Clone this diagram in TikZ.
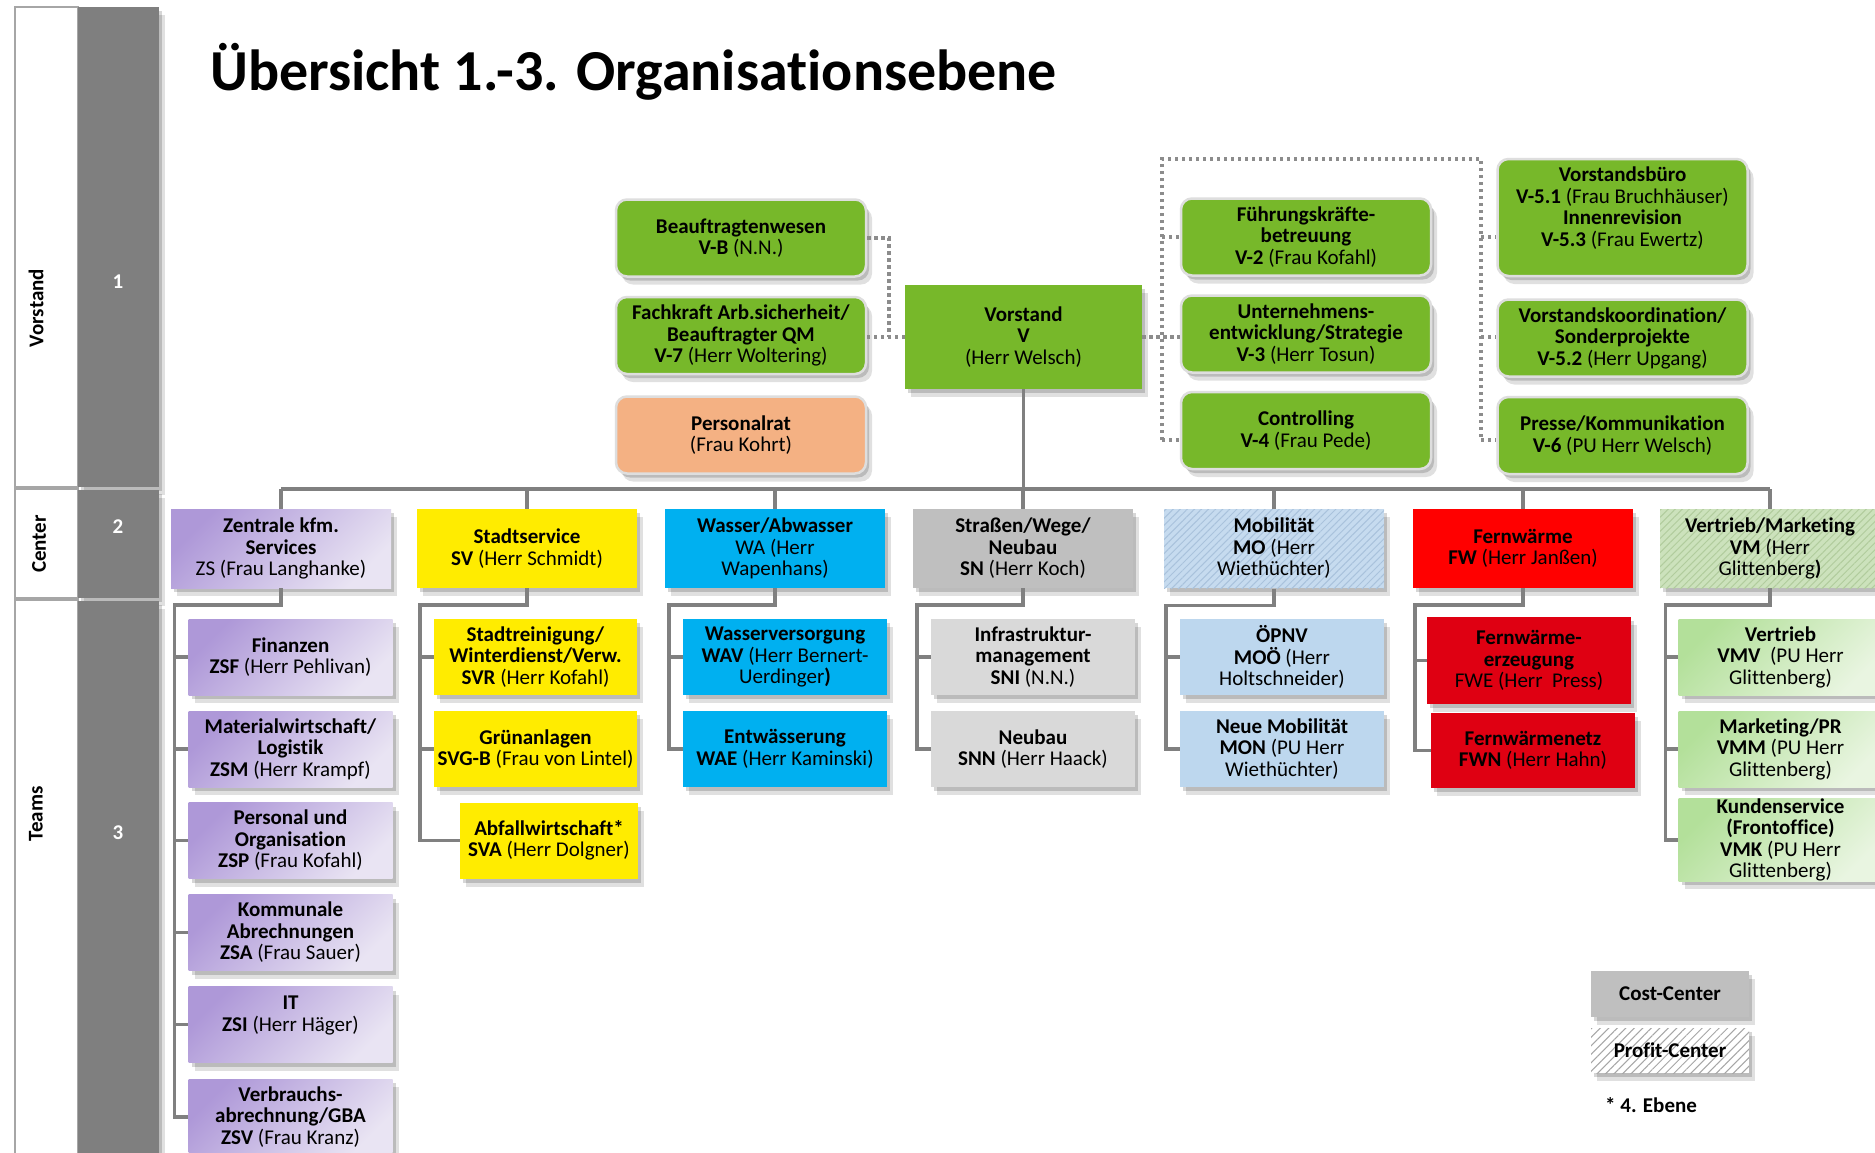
\documentclass[tikz,border=0pt]{standalone}
\usepackage{fontspec}
\setmainfont{Carlito}[Ligatures=NoCommon]
\usetikzlibrary{shadows,patterns.meta,calc}
\definecolor{vgreen}{HTML}{77B82A}
\definecolor{salmon}{HTML}{F4B183}
\definecolor{purpA}{HTML}{AE98D8}
\definecolor{purpB}{HTML}{E9E4F3}
\definecolor{syellow}{HTML}{FFEC00}
\definecolor{wblue}{HTML}{00B0F0}
\definecolor{sgray}{HTML}{BFBFBF}
\definecolor{lgray}{HTML}{D9D9D9}
\definecolor{mobase}{HTML}{C6DBEF}
\definecolor{mostripe}{HTML}{A9C2DC}
\definecolor{lblue}{HTML}{BDD7EE}
\definecolor{fred}{HTML}{FF0000}
\definecolor{dred}{HTML}{DF0012}
\definecolor{vmbase}{HTML}{CCE2BC}
\definecolor{vmstripe}{HTML}{B1CC9D}
\definecolor{lgA}{HTML}{B3E09A}
\definecolor{lgB}{HTML}{E9F5E1}
\definecolor{conngray}{HTML}{808080}
\definecolor{dotgray}{HTML}{8C8C8C}
\definecolor{colgray}{HTML}{7F7F7F}
\definecolor{bordgray}{HTML}{A6A6A6}
\begin{document}
\begin{tikzpicture}[x=1pt,y=-1pt,
  shad/.style={drop shadow={shadow xshift=3pt,shadow yshift=-4pt,opacity=0.16,fill=black},
               drop shadow={shadow xshift=6pt,shadow yshift=-8pt,opacity=0.12,fill=black}},
  box/.style={inner sep=0pt,align=center,font=\fontsize{21}{21.5}\selectfont,text=black},
  topbox/.style={box,shad,rounded corners=11pt,draw=black!13,line width=2.5pt,fill=vgreen,
                 minimum width=250pt,minimum height=77pt},
  cbox/.style={box,shad,minimum width=220pt,minimum height=79pt},
  tbox/.style={box,shad,minimum width=204pt,minimum height=76pt},
  conn/.style={draw=conngray,line width=3.5pt},
  dots/.style={draw=dotgray,line width=3.3pt,dash pattern=on 3.3pt off 3.7pt},
  purp/.style={top color=purpA,bottom color=purpB,shading angle=45},
  lgreen/.style={top color=lgA,bottom color=lgB,shading angle=45},
  hatchblue/.style={preaction={fill=mobase},pattern={Lines[angle=45,distance=5pt,line width=1pt]},pattern color=mostripe},
  hatchgreen/.style={preaction={fill=vmbase},pattern={Lines[angle=45,distance=5pt,line width=1pt]},pattern color=vmstripe},
  lab/.style={font=\bfseries\fontsize{21}{21}\selectfont,inner sep=0pt},
]
\fill[white] (0,0) rectangle (1875,1152);
\useasboundingbox (0,0) rectangle (1875,1152);

% left band
\draw[bordgray,line width=1.2pt,fill=white] (15,7) rectangle (78,487);
\draw[bordgray,line width=1.2pt,fill=white] (15,489) rectangle (78,598);
\draw[bordgray,line width=1.2pt,fill=white] (15,600) rectangle (78,1170);
\fill[colgray,shad] (78,7) rectangle (159,487);
\fill[colgray,shad] (78,490) rectangle (159,598);
\fill[colgray,shad] (78,601) rectangle (159,1170);
\node[lab,rotate=90] (lvor) at (36,308) {Vorstand};
\node[lab,rotate=90] (lcen) at (39,544) {Center};
\node[lab,rotate=90] (ltea) at (36,814) {Teams};
\node[lab,text=white] (n1) at (118,282) {1};
\node[lab,text=white] (n2) at (118,527) {2};
\node[lab,text=white] (n3) at (118,833) {3};

% title
\node[anchor=base west,inner sep=0pt,font=\bfseries\fontsize{58}{60}\selectfont] (title) at (210,90) {Übersicht 1.-3. Organisationsebene};

% level 1
\node[topbox] (bw) at (741,238) {\textbf{Beauftragtenwesen}\\\textbf{V-B} (N.N.)};
\node[topbox] (fk) at (741,335.5) {\textbf{Fachkraft Arb.sicherheit/}\\\textbf{Beauftragter QM}\\\textbf{V-7} (Herr Woltering)};
\node[topbox,fill=salmon] (pr) at (741,435) {\textbf{Personalrat}\\(Frau Kohrt)};
\node[box,shad,fill=vgreen,minimum width=237pt,minimum height=104pt] (vo) at (1023.5,337) {\textbf{Vorstand}\\\textbf{V}\\(Herr Welsch)};
\node[topbox] (fb) at (1306,237) {\textbf{Führungskräfte-}\\\textbf{betreuung}\\\textbf{V-2} (Frau Kofahl)};
\node[topbox] (ue) at (1306,334) {\textbf{Unternehmens-}\\\textbf{entwicklung/Strategie}\\\textbf{V-3} (Herr Tosun)};
\node[topbox] (co) at (1306,430.5) {\textbf{Controlling}\\\textbf{V-4} (Frau Pede)};
\node[topbox,minimum height=117pt] (vb) at (1622.5,217.5) {\textbf{Vorstandsbüro}\\\textbf{V-5.1} (Frau Bruchhäuser)\\\textbf{Innenrevision}\\\textbf{V-5.3} (Frau Ewertz)\\\mbox{}};
\node[topbox] (vk) at (1622.5,338) {\textbf{Vorstandskoordination/}\\\textbf{Sonderprojekte}\\\textbf{V-5.2} (Herr Upgang)};
\node[topbox] (pk) at (1622.5,435.5) {\textbf{Presse/Kommunikation}\\\textbf{V-6} (PU Herr Welsch)};

% dotted links
\coordinate (dlv) at (889,337);
\coordinate (dtl) at (1162,159);
\coordinate (dtr) at (1481,159);
\coordinate (dbot) at (0,440);
\draw[dots] (bw.east) -| (dlv);
\draw[dots] (vo.west) -- (vo.west -| fk.east);
\draw[dots] (vo.east) -- (vo.east -| ue.west);
\draw[dots] (dtl |- dbot) -- (dtl) -- (dtr) -- (dtr |- dbot);
\draw[dots] (dtl |- fb.west) -- (fb.west);
\draw[dots] (dtl |- dbot) -- (co.west |- dbot);
\draw[dots] (dtr |- fb.west) -- (vb.west |- fb.west);
\draw[dots] (dtr |- vo.east) -- (vk.west |- vo.east);
\draw[dots] (dtr |- dbot) -- (pk.west |- dbot);

% level 2
\node[cbox,purp] (zs) at (281,548.5) {\textbf{Zentrale kfm.}\\\textbf{Services}\\ZS (Frau Langhanke)};
\node[cbox,fill=syellow] (sv) at (527,548.5) {\textbf{Stadtservice}\\\textbf{SV} (Herr Schmidt)};
\node[cbox,fill=wblue] (wa) at (775,548.5) {\textbf{Wasser/Abwasser}\\WA (Herr\\Wapenhans)};
\node[cbox,fill=sgray] (sn) at (1023,548.5) {\textbf{Straßen/Wege/}\\\textbf{Neubau}\\\textbf{SN} (Herr Koch)};
\node[cbox,hatchblue] (mo) at (1274,548.5) {\textbf{Mobilität}\\\textbf{MO} (Herr\\Wiethüchter)};
\node[cbox,fill=fred] (fw) at (1523,548.5) {\textbf{Fernwärme}\\\textbf{FW} (Herr Janßen)};
\node[cbox,hatchgreen] (vm) at (1770,548.5) {\textbf{Vertrieb/Marketing}\\\textbf{VM} (Herr\\Glittenberg\textbf{)}};

% bus
\coordinate (bus) at (1023.5,489);
\draw[conn] (vo.south) -- (vo.south |- bus);
\draw[conn] (zs.north |- bus) -- (vm.north |- bus);
\foreach \n in {zs,sv,wa,sn,mo,fw,vm} \draw[conn] (\n.north) -- (\n.north |- bus);

% level 3
\node[tbox,purp] (zsf) at (290.5,657) {\textbf{Finanzen}\\\textbf{ZSF} (Herr Pehlivan)};
\node[tbox,purp] (zsm) at (290.5,749) {\textbf{Materialwirtschaft/}\\\textbf{Logistik}\\\textbf{ZSM} (Herr Krampf)};
\node[tbox,purp] (zsp) at (290.5,840.5) {\textbf{Personal und}\\\textbf{Organisation}\\\textbf{ZSP} (Frau Kofahl)};
\node[tbox,purp] (zsa) at (290.5,932.5) {\textbf{Kommunale}\\\textbf{Abrechnungen}\\\textbf{ZSA} (Frau Sauer)};
\node[tbox,purp] (zsi) at (290.5,1024.5) {\textbf{IT}\\\textbf{ZSI} (Herr Häger)\\\mbox{}};
\node[tbox,purp] (zsv) at (290.5,1117) {\textbf{Verbrauchs-}\\\textbf{abrechnung/GBA}\\\textbf{ZSV} (Frau Kranz)};

\node[tbox,fill=syellow,minimum width=203pt] (svr) at (535.5,657) {\textbf{Stadtreinigung/}\\\textbf{Winterdienst/Verw.}\\\textbf{SVR} (Herr Kofahl)};
\node[tbox,fill=syellow,minimum width=203pt] (svg) at (535.5,749) {\textbf{Grünanlagen}\\\textbf{SVG-B} (Frau von Lintel)};
\node[tbox,fill=syellow,minimum width=178pt] (sva) at (549,840.5) {\textbf{Abfallwirtschaft*}\\\textbf{SVA} (Herr Dolgner)};

\node[tbox,fill=wblue] (wav) at (785,657) {\textbf{Wasserversorgung}\\\textbf{WAV} (Herr Bernert-\\Uerdinger\textbf{)}};
\node[tbox,fill=wblue] (wae) at (785,749) {\textbf{Entwässerung}\\\textbf{WAE} (Herr Kaminski)};

\node[tbox,fill=lgray] (sni) at (1033,657) {\textbf{Infrastruktur-}\\\textbf{management}\\\textbf{SNI} (N.N.)};
\node[tbox,fill=lgray] (snn) at (1033,749) {\textbf{Neubau}\\\textbf{SNN} (Herr Haack)};

\node[tbox,fill=lblue] (moo) at (1282,657) {\textbf{ÖPNV}\\\textbf{MOÖ} (Herr\\Holtschneider)};
\node[tbox,fill=lblue] (mon) at (1282,749) {\textbf{Neue Mobilität}\\\textbf{MON} (PU Herr\\Wiethüchter)};

\node[tbox,fill=dred,minimum height=87pt] (fwe) at (1529,660.5) {\textbf{Fernwärme-}\\\textbf{erzeugung}\\FWE (Herr~~Press)};
\node[tbox,fill=dred,minimum height=75pt] (fwn) at (1533,750.5) {\textbf{Fernwärmenetz}\\\textbf{FWN} (Herr Hahn)};

\node[tbox,lgreen] (vmv) at (1780.5,657) {\textbf{Vertrieb}\\\textbf{VMV}~~(PU Herr\\Glittenberg)};
\node[tbox,lgreen] (vmm) at (1780.5,749) {\textbf{Marketing/PR}\\\textbf{VMM} (PU Herr\\Glittenberg)};
\node[tbox,lgreen] (vmk) at (1780.5,840) {\textbf{Kundenservice}\\\textbf{(Frontoffice)}\\\textbf{VMK} (PU Herr\\Glittenberg)};

% rails
\coordinate (zsr) at ($(zsf.west)+(-14,0)$);
\coordinate (svr0) at ($(svr.west)+(-14,0)$);
\coordinate (war) at ($(wav.west)+(-14,0)$);
\coordinate (snr) at ($(sni.west)+(-14,0)$);
\coordinate (mor) at ($(moo.west)+(-14,0)$);
\coordinate (fwr) at ($(fwe.west)+(-12,0)$);
\coordinate (vmr) at ($(vmv.west)+(-13,0)$);

\draw[conn] (zs.south) -- ++(0,17) -| (zsr |- zsv.west) -- (zsv.west);
\foreach \n in {zsf,zsm,zsp,zsa,zsi} \draw[conn] (zsr |- \n.west) -- (\n.west);
\draw[conn] (sv.south) -- ++(0,17) -| (svr0 |- sva.west) -- (sva.west);
\foreach \n in {svr,svg} \draw[conn] (svr0 |- \n.west) -- (\n.west);
\draw[conn] (wa.south) -- ++(0,17) -| (war |- wae.west) -- (wae.west);
\draw[conn] (war |- wav.west) -- (wav.west);
\draw[conn] (sn.south) -- ++(0,17) -| (snr |- snn.west) -- (snn.west);
\draw[conn] (snr |- sni.west) -- (sni.west);
\draw[conn] (mo.south) -- ++(0,17) -| (mor |- mon.west) -- (mon.west);
\draw[conn] (mor |- moo.west) -- (moo.west);
\draw[conn] (fw.south) -- ++(0,17) -| (fwr |- fwn.west) -- (fwn.west);
\draw[conn] (fwr |- fwe.west) -- (fwe.west);
\draw[conn] (vm.south) -- ++(0,17) -| (vmr |- vmk.west) -- (vmk.west);
\foreach \n in {vmv,vmm} \draw[conn] (vmr |- \n.west) -- (\n.west);

% legend
\node[box,shad,fill=sgray,minimum width=158pt,minimum height=46pt] (cc) at (1670,994) {\textbf{Cost-Center}};
\node[box,shad,preaction={fill=white},pattern={Lines[angle=45,distance=6pt,line width=1pt]},pattern color=bordgray,minimum width=158pt,minimum height=45pt] (pc) at (1670,1050.5) {\textbf{Profit-Center}};
\node[anchor=west,inner sep=0pt,font=\bfseries\fontsize{21}{21}\selectfont] (eb) at (1605,1105) {* 4. Ebene};
\end{tikzpicture}
\end{document}
